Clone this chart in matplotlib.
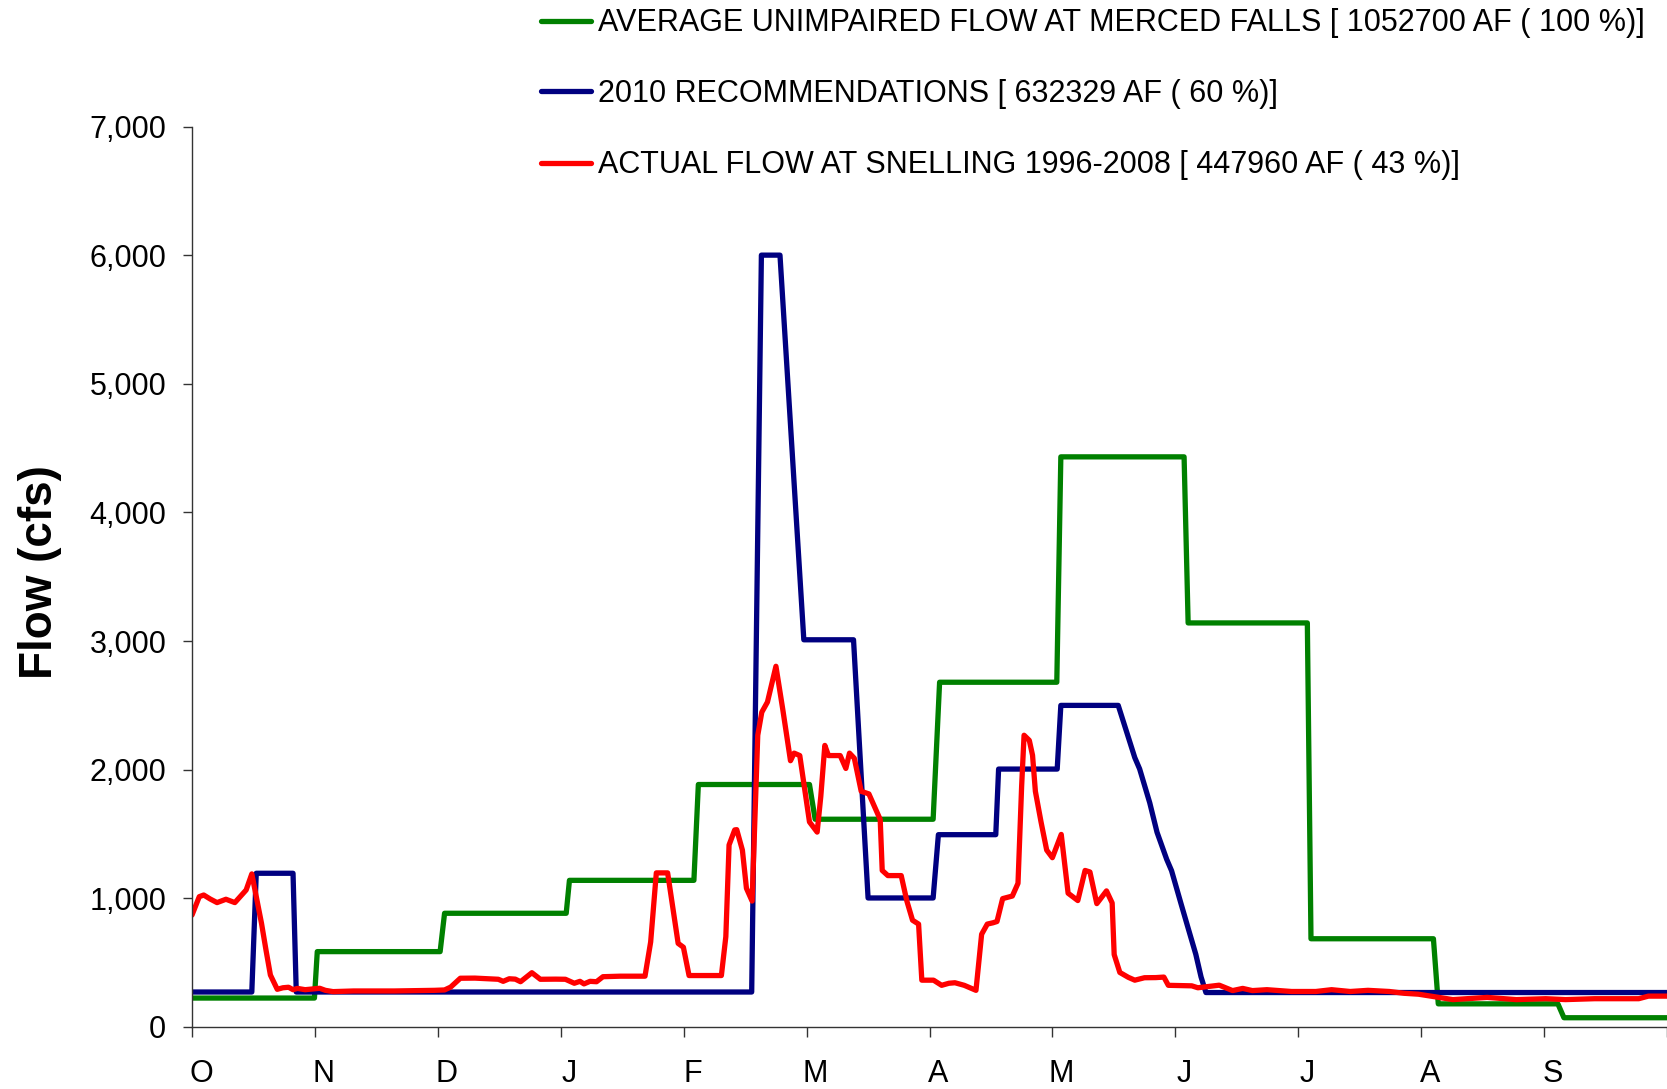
import matplotlib
matplotlib.use('Agg')
import matplotlib.pyplot as plt
from matplotlib.lines import Line2D
from matplotlib.ticker import FuncFormatter

plt.rcParams['font.family'] = ['Liberation Sans', 'DejaVu Sans']

month_labels = ['O', 'N', 'D', 'J', 'F', 'M', 'A', 'M', 'J', 'J', 'A', 'S']
month_len = 365 / 12

# average unimpaired flow at Merced Falls (day of water year, cfs)
unimpaired_day = [0, 30.3, 31.0, 61.4, 62.5, 92.6, 93.4, 124.2, 125.3, 152.8, 154.2,
                  183.4, 185.0, 214.0, 215.0, 245.5, 246.5, 276.0, 276.9, 307.2, 308.4,
                  338.0, 339.5, 365]
unimpaired_cfs = [225, 225, 586, 586, 884, 884, 1140, 1140, 1885, 1885, 1615,
                  1615, 2680, 2680, 4432, 4432, 3141, 3141, 686, 686, 180,
                  180, 72, 72]

# 2010 recommendations
recommend_day = [0, 14.8, 15.9, 25.0, 25.8, 138.5, 140.9, 145.5, 151.4, 163.7, 167.3,
                 183.4, 184.7, 198.9, 199.6, 214.1, 215.0, 229.2, 233.3, 234.5, 237.0,
                 238.8, 241.2, 242.4, 244.8, 246.6, 248.4, 249.7, 250.9, 365]
recommend_cfs = [272, 272, 1195, 1195, 272, 272, 6000, 6000, 3010, 3010, 1003,
                 1003, 1495, 1495, 2005, 2005, 2500, 2500, 2094, 2006, 1743,
                 1514, 1303, 1215, 952, 758, 565, 389, 268, 268]

# actual flow at Snelling 1996-2008
actual_day = [0, 1.8, 2.9, 4.5, 6.2, 8.4, 10.6, 13.4, 14.8, 16.0, 17.2, 18.3, 19.4, 21.1,
              22.5, 23.9, 25.0, 26.1, 28, 31.6, 33, 34.9, 40, 50, 60, 62.5, 64.0, 66.4,
              70, 75.8, 77, 78.5, 80, 81.3, 84.1, 86.2, 90, 92.4, 94.6, 96, 97, 98.5,
              100.1, 101.7, 106, 112.1, 113.5, 114.9, 117.7, 120.3, 121.6, 123.0, 131.0,
              132.1, 132.9, 134.3, 134.8, 136.2, 137.2, 138.6, 140.0, 141.0, 142.4, 144.5,
              146.2, 148.1, 149.0, 150.4, 152.8, 154.7, 155.6, 156.6, 157.5, 160.4, 161.8,
              162.7, 163.9, 165.6, 167.5, 170.3, 170.8, 172.2, 175.5, 176.9, 178.3, 179.8,
              180.6, 183.5, 185.5, 187.3, 188.8, 191.1, 194.0, 195.4, 196.8, 198.2, 199.2,
              200.6, 203.0, 204.4, 205.3, 205.9, 207.2, 208.0, 208.7, 210.1, 211.5, 212.9,
              215.1, 216.8, 219.2, 221.0, 222.2, 223.9, 226.3, 227.7, 228.2, 229.6, 231.7,
              233.3, 235.7, 238.5, 240.5, 241.6, 247.4, 248.9, 254.2, 257.5, 260.0, 262.4,
              266.0, 272.1, 278.1, 282.0, 286.6, 291.0, 296.3, 300.0, 303.5, 312.0, 320.5,
              327.7, 335.0, 339.9, 347.1, 358.0, 360.4, 365]
actual_cfs = [870, 1013, 1026, 995, 967, 993, 967, 1065, 1190, 1000, 806, 600, 404, 293,
              305, 309, 290, 300, 290, 301, 285, 275, 280, 280, 285, 288, 310, 379,
              380, 371, 355, 375, 372, 352, 422, 371, 372, 371, 340, 355, 335, 355,
              352, 391, 395, 395, 661, 1198, 1198, 650, 620, 400, 400,
              702, 1415, 1532, 1534, 1375, 1078, 979, 2268, 2447, 2526, 2804,
              2467, 2070, 2129, 2110, 1594, 1515, 1792, 2189, 2110, 2110, 2010,
              2129, 2089, 1832, 1812, 1613, 1217, 1177, 1177, 979, 830, 800,
              364, 364, 324, 340, 344, 324, 285, 721, 800, 810, 820,
              998, 1018, 1117, 1872, 2268, 2228, 2112, 1832, 1594, 1375, 1316,
              1497, 1040, 983, 1217, 1205, 959, 1058, 964, 563, 424, 386,
              364, 383, 384, 388, 324, 320, 305, 325, 283, 300, 283,
              290, 276, 276, 290, 276, 285, 276, 262, 255, 213, 230,
              213, 220, 213, 220, 220, 240, 240]

series = [
    ('AVERAGE UNIMPAIRED FLOW AT MERCED FALLS [ 1052700 AF ( 100 %)]', unimpaired_day, unimpaired_cfs, '#008000'),
    ('2010 RECOMMENDATIONS [ 632329 AF ( 60 %)]', recommend_day, recommend_cfs, '#000080'),
    ('ACTUAL FLOW AT SNELLING 1996-2008 [ 447960 AF ( 43 %)]', actual_day, actual_cfs, '#FF0000'),
]

W, H = 1667, 1089
fig = plt.figure(figsize=(W / 100, H / 100), dpi=100)
ax = fig.add_axes([192 / W, 1 - 1027 / H, 1475 / W, (1027 - 126.5) / H])

for label, d, v, c in series:
    ax.plot(d, v, color=c, lw=3.8, solid_joinstyle='round', solid_capstyle='round')

ax.set_xlim(0, 365)
ax.set_ylim(0, 7000)
ax.set_yticks(range(0, 7001, 1000))
ax.yaxis.set_major_formatter(FuncFormatter(lambda v, p: f'{int(v):,}'))
ax.set_xticks([i * month_len for i in range(13)])
ax.set_xticklabels([])
ax.set_xticks([i * month_len + 2.2 for i in range(12)], minor=True)
ax.set_xticklabels(month_labels, minor=True)

for s in ['top', 'right']:
    ax.spines[s].set_visible(False)
for s in ['left', 'bottom']:
    ax.spines[s].set_color('#333333')
    ax.spines[s].set_linewidth(1.0)

ax.tick_params(axis='y', direction='out', length=6.5, width=1.0, color='#333333',
               labelsize=22, pad=12)
ax.tick_params(axis='x', which='major', direction='out', length=7, width=1.0, color='#333333')
ax.tick_params(axis='x', which='minor', length=0, labelsize=22, pad=23)

fig.text(40 / W, 1 - 572 / H, 'Flow (cfs)', rotation=90, ha='center', va='center',
         fontsize=33, fontweight='bold')

# legend drawn at top
rows = [20.5, 91, 162.5]
for (label, d, v, c), yy in zip(series, rows):
    y = 1 - yy / H
    fig.add_artist(Line2D([541 / W, 591 / W], [y, y], color=c, lw=3.8,
                          solid_capstyle='round', transform=fig.transFigure))
    fig.text(598 / W, 1 - (yy + 11) / H, label, ha='left', va='baseline', fontsize=22)

fig.savefig('out.png', dpi=100)
